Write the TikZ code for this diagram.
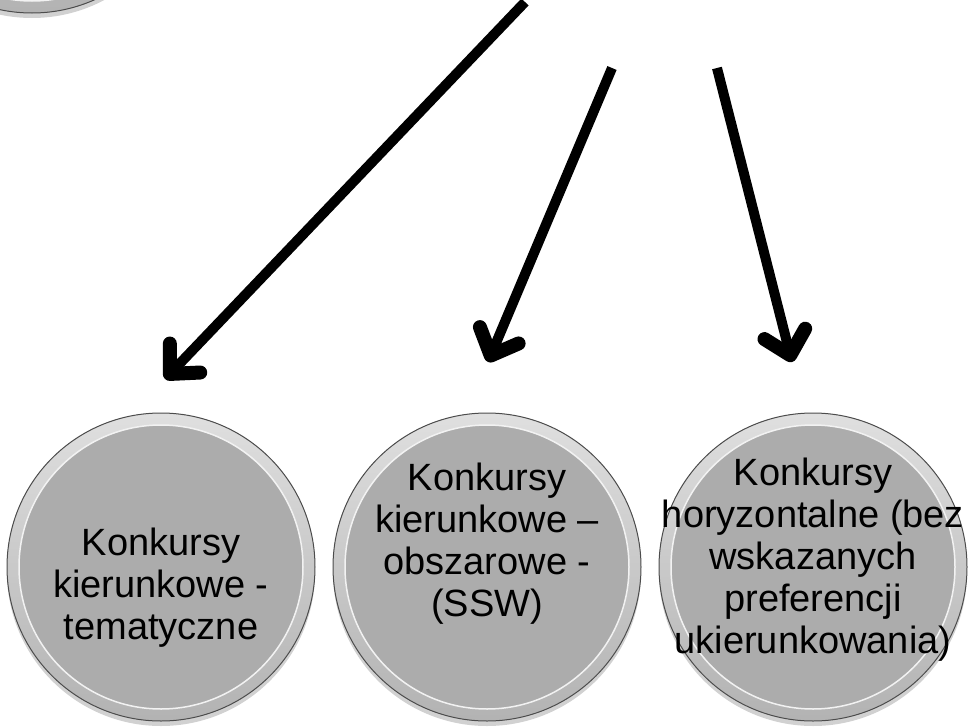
\documentclass[tikz,border=0pt]{standalone}
\usepackage{fontspec}
\setmainfont{Liberation Sans}
\usetikzlibrary{arrows.meta, positioning, shadows}
\definecolor{bubblegray}{RGB}{172,172,172}

\tikzset{
  bubble/.style={circle, minimum size=308pt, inner sep=0pt, fill=bubblegray,
    draw=gray!60!black, line width=1pt,
    drop shadow={shadow xshift=0pt, shadow yshift=-5pt, opacity=.18, fill=black},
    path picture={
      \shade[top color=gray!25, bottom color=gray!60, even odd rule]
        (path picture bounding box.center) circle (154pt) circle (142pt);
      \draw[white!90!gray, line width=1.5pt] (path picture bounding box.center) circle (142pt);
    }},
  bubbletext/.style={align=center, font=\fontsize{38}{42}\selectfont},
  bigarrow/.style={line width=10pt, -{Straight Barb[length=22pt, width=42pt, line width=14pt, round]}}
}

\begin{document}
\begin{tikzpicture}[x=1pt, y=-1pt, node distance=326pt, on grid]
   \useasboundingbox (0,0) rectangle (970,728);
   \begin{scope}
     \clip (0,0) rectangle (970,728);
     \node[bubble] (top) at (32,-141) {};
   \end{scope}
   \node[bubble, label={[bubbletext, yshift=-21pt]center:Konkursy\\kierunkowe -\\tematyczne}] (tem) at (161,567) {};
   \node[bubble, label={[bubbletext, yshift=23pt]center:Konkursy\\kierunkowe --\\obszarowe -\\(SSW)}] (kie) [right=of tem] {};
   \node[bubble, label={[bubbletext, yshift=7pt]center:Konkursy\\horyzontalne (bez\\wskazanych\\preferencji\\ukierunkowania)}] (hor) [right=of kie] {};
   % arrow ends
   \coordinate (s1) at (525,2);
   \coordinate (s2) at (612,68);
   \coordinate (s3) at (717,68);
   \coordinate (e1) at (165,379);
   \coordinate (e2) at (488,362);
   \coordinate (e3) at (792,362);
   \draw[bigarrow] (s1) -- (e1);
   \draw[bigarrow] (s2) -- (e2);
   \draw[bigarrow] (s3) -- (e3);
\end{tikzpicture}
\end{document}
